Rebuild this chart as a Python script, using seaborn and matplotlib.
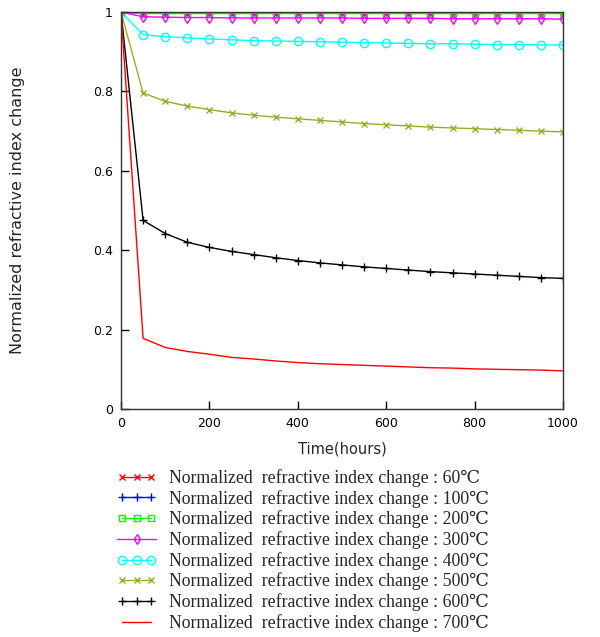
import numpy as np
import pandas as pd
import matplotlib
matplotlib.use("Agg")
import matplotlib.pyplot as plt
import seaborn as sns
from matplotlib.legend_handler import HandlerLine2D

hours = [0, 50, 100, 150, 200, 250, 300, 350, 400, 450, 500,
         550, 600, 650, 700, 750, 800, 850, 900, 950, 1000]

t60 = [1.0] * 21
t100 = [1.0] * 21
t200 = [1.0, 0.996, 0.996, 0.996, 0.996, 0.996, 0.996, 0.996, 0.996, 0.996, 0.996,
        0.996, 0.996, 0.996, 0.996, 0.996, 0.996, 0.996, 0.996, 0.996, 0.996]
t300 = [1.0, 0.988, 0.987, 0.986, 0.986, 0.985, 0.985, 0.985, 0.985, 0.985, 0.985,
        0.984, 0.984, 0.984, 0.984, 0.983, 0.983, 0.983, 0.983, 0.983, 0.982]
t400 = [1.0, 0.943, 0.938, 0.935, 0.932, 0.930, 0.928, 0.927, 0.926, 0.925, 0.924,
        0.923, 0.922, 0.921, 0.920, 0.920, 0.919, 0.918, 0.918, 0.917, 0.917]
t500 = [1.0, 0.796, 0.775, 0.763, 0.754, 0.746, 0.740, 0.735, 0.731, 0.727, 0.723,
        0.719, 0.716, 0.713, 0.710, 0.708, 0.706, 0.704, 0.702, 0.700, 0.698]
t600 = [1.0, 0.475, 0.442, 0.420, 0.407, 0.397, 0.389, 0.381, 0.374, 0.368, 0.363,
        0.358, 0.354, 0.350, 0.346, 0.343, 0.340, 0.337, 0.334, 0.331, 0.329]
t700 = [1.0, 0.178, 0.155, 0.145, 0.138, 0.130, 0.126, 0.121, 0.117, 0.114, 0.112,
        0.110, 0.108, 0.106, 0.104, 0.103, 0.101, 0.100, 0.099, 0.098, 0.096]

temps = ["60", "100", "200", "300", "400", "500", "600", "700"]
series = [t60, t100, t200, t300, t400, t500, t600, t700]
colors = ["#ff0000", "#0000ff", "#00ff00", "#ff00ff", "#00ffff", "#9aad2a", "#000000", "#ff0000"]
markers = ["x", "+", "s", "d", "o", "x", "+", None]
msizes = [5, 6, 5, 5, 6, 5, 6, 0]
filled = [True, True, False, False, False, True, True, True]

sns.set_style("white")
plt.rcParams['font.family'] = ['DejaVu Sans']

fig = plt.figure(figsize=(6.0, 6.37), dpi=100)
ax = fig.add_axes([121/600, 1-409/637, (563-121)/600, (409-12)/637])

lines = []
for temp, vals, c, m, ms, f in zip(temps, series, colors, markers, msizes, filled):
    df = pd.DataFrame({"Time": hours, "val": vals})
    kw = dict(color=c, linewidth=1.0)
    if m is not None:
        kw.update(marker=m, markersize=ms, markeredgewidth=1.0,
                  markeredgecolor=c)
        if not f:
            kw.update(markerfacecolor="none")
    sns.lineplot(data=df, x="Time", y="val", ax=ax, legend=False, **kw)
    ln = ax.get_lines()[-1]
    ln.set_label("Normalized  refractive index change : " + temp + "\u2103")
    lines.append(ln)

ax.set_xlim(0, 1000)
ax.set_ylim(0, 1)
ax.set_xticks([0, 200, 400, 600, 800, 1000])
ax.set_yticks([0, 0.2, 0.4, 0.6, 0.8, 1.0])
ax.set_yticklabels(["0", "0.2", "0.4", "0.6", "0.8", "1"])
ax.tick_params(direction="in", length=6, width=1, labelsize=9, colors="black",
               pad=6, top=False, right=False, bottom=True, left=True)
for s in ax.spines.values():
    s.set_color("#333333")
    s.set_linewidth(1.0)
ax.set_xlabel("Time(hours)", fontsize=10.5, labelpad=8)
ax.set_ylabel("Normalized refractive index change", fontsize=11.5)
ax.yaxis.set_label_coords((25-121)/442, 0.5)

hmap = {lines[3]: HandlerLine2D(numpoints=1)}
leg = fig.legend(handles=lines, loc="upper left",
                 bbox_to_anchor=(117/600, 1-469/637),
                 frameon=False, numpoints=3, handlelength=2.2,
                 handletextpad=0.75, labelspacing=0.16, borderpad=0,
                 borderaxespad=0, handler_map=hmap,
                 prop={"family": ["Liberation Serif", "DejaVu Serif"], "size": 12.8})

fig.savefig("out.png", dpi=100, facecolor="white")
